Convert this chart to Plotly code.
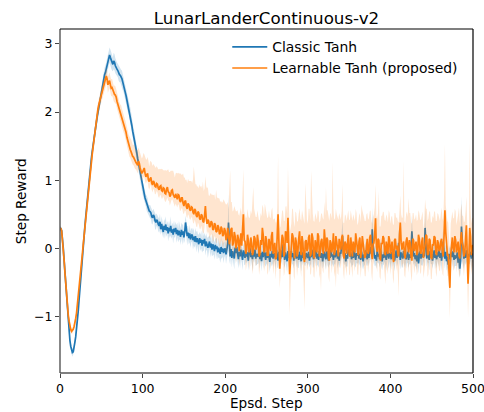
import plotly.graph_objects as go

# Episode steps
steps = list(range(0, 501))

# Classic Tanh: mean step reward per step and its (symmetric) spread
classic_mean = [
    0.30, 0.29, 0.26, 0.15, 0.00, -0.18, -0.35, -0.56, -0.78, -0.95, -1.10, -1.24, -1.35, -1.44, -1.50, -1.53, -1.52, -1.47, -1.38, -1.30,
    -1.20, -1.07, -0.93, -0.77, -0.60, -0.44, -0.28, -0.13, 0.02, 0.16, 0.30, 0.44, 0.58, 0.72, 0.85, 0.98, 1.10, 1.21, 1.32, 1.42,
    1.52, 1.61, 1.70, 1.78, 1.86, 1.93, 2.00, 2.07, 2.14, 2.22, 2.30, 2.36, 2.42, 2.49, 2.55, 2.58, 2.63, 2.68, 2.74, 2.79,
    2.84, 2.80, 2.76, 2.72, 2.70, 2.75, 2.73, 2.68, 2.64, 2.63, 2.61, 2.57, 2.55, 2.54, 2.52, 2.49, 2.44, 2.40, 2.33, 2.29,
    2.24, 2.18, 2.12, 2.08, 2.03, 1.97, 1.90, 1.80, 1.72, 1.66, 1.62, 1.55, 1.48, 1.40, 1.32, 1.25, 1.18, 1.10, 1.02, 0.95,
    0.88, 0.84, 0.80, 0.74, 0.70, 0.66, 0.64, 0.58, 0.55, 0.54, 0.52, 0.47, 0.45, 0.49, 0.47, 0.41, 0.38, 0.42, 0.40, 0.35,
    0.33, 0.39, 0.28, 0.36, 0.30, 0.24, 0.33, 0.27, 0.35, 0.26, 0.31, 0.22, 0.30, 0.25, 0.33, 0.23, 0.28, 0.20, 0.29, 0.24,
    0.30, 0.21, 0.27, 0.19, 0.26, 0.22, 0.17, 0.27, 0.20, 0.25, 0.16, 0.24, 0.38, 0.28, 0.18, 0.23, 0.15, 0.22, 0.13, 0.19,
    0.20, 0.12, 0.17, 0.10, 0.18, 0.09, 0.15, 0.11, 0.06, 0.15, 0.08, 0.13, 0.04, 0.12, 0.07, 0.14, 0.03, 0.10, 0.06, 0.01,
    0.05, 0.10, 0.01, 0.07, -0.02, 0.06, 0.02, -0.04, 0.05, -0.01, 0.03, -0.06, 0.01, -0.03, -0.08, 0.02, -0.05, 0.00, -0.07, -0.02,
    0.00, -0.09, -0.02, 0.06, 0.38, -0.03, -0.12, -0.01, -0.14, -0.04, -0.08, -0.15, 0.01, -0.07, 0.02, -0.11, -0.16, -0.05, -0.12, -0.02,
    -0.09, -0.17, -0.03, -0.10, -0.14, -0.01, -0.12, -0.06, -0.18, -0.04, 0.01, -0.13, -0.07, -0.16, -0.05, -0.12, -0.02, -0.15, -0.08, -0.11,
    -0.12, -0.03, -0.16, -0.07, -0.19, -0.05, -0.13, -0.01, -0.10, -0.17, -0.06, -0.14, -0.03, -0.11, -0.20, -0.08, -0.13, -0.04, -0.15, -0.09,
    -0.07, -0.16, -0.02, -0.12, -0.18, -0.05, -0.10, -0.15, -0.03, -0.13, 0.06, -0.09, -0.17, -0.06, -0.11, -0.19, -0.04, -0.14, -0.08, -0.16,
    -0.04, -0.13, -0.07, -0.18, -0.10, -0.02, -0.15, -0.08, -0.12, -0.17, -0.05, -0.11, -0.19, -0.06, -0.14, -0.03, -0.12, -0.16, -0.07, -0.10,
    -0.14, -0.05, -0.18, -0.09, -0.13, -0.02, -0.11, -0.16, -0.06, -0.12, 0.00, -0.15, -0.08, -0.17, -0.04, -0.10, -0.14, -0.07, -0.19, -0.09,
    -0.05, -0.13, -0.16, -0.04, -0.11, -0.18, -0.07, -0.14, -0.02, -0.12, -0.09, -0.17, -0.05, -0.13, -0.10, -0.03, -0.15, -0.08, -0.18, -0.06,
    -0.08, 0.02, 0.18, -0.04, -0.13, -0.07, -0.19, -0.10, -0.15, -0.03, 0.05, -0.12, -0.06, -0.16, -0.09, -0.14, -0.02, -0.11, -0.17, -0.07,
    -0.11, -0.04, -0.15, -0.08, -0.17, -0.05, -0.12, -0.19, -0.09, -0.13, -0.03, -0.10, -0.16, -0.06, -0.14, -0.01, 0.02, -0.08, 0.28, 0.05,
    -0.07, -0.15, -0.10, -0.18, -0.04, -0.12, -0.08, -0.16, -0.03, -0.13, -0.19, -0.09, -0.14, -0.05, -0.11, -0.17, -0.02, -0.10, -0.15, -0.07,
    -0.09, -0.16, -0.05, -0.13, -0.08, -0.18, -0.11, -0.03, -0.14, -0.07, 0.08, -0.10, -0.17, -0.06, -0.12, -0.15, -0.04, -0.13, -0.09, -0.16,
    -0.11, -0.05, -0.17, -0.09, -0.14, -0.02, 0.25, 0.03, -0.12, -0.07, -0.16, -0.10, -0.19, -0.06, -0.22, -0.11, -0.04, -0.15, -0.08, -0.13,
    -0.05, -0.12, 0.30, 0.08, -0.15, -0.06, -0.11, -0.17, -0.04, -0.13, -0.08, -0.18, -0.10, -0.03, -0.14, -0.09, -0.16, -0.06, -0.12, -0.02,
    -0.14, -0.07, -0.18, -0.03, 0.10, -0.09, -0.15, -0.05, -0.19, -0.12, -0.24, -0.08, -0.16, -0.11, -0.06, -0.13, -0.04, -0.17, -0.10, -0.14,
    -0.13, -0.06, -0.21, -0.12, -0.30, -0.18, 0.32, 0.12, -0.10, -0.15, -0.07, -0.14, -0.03, -0.11, -0.16, -0.08, -0.12, -0.05, -0.15, -0.09,
    -0.08,
]
classic_spread = [
    0.03, 0.03, 0.03, 0.03, 0.03, 0.04, 0.04, 0.04, 0.04, 0.05, 0.05, 0.05, 0.05, 0.05, 0.05, 0.06, 0.06, 0.05, 0.05, 0.05,
    0.04, 0.04, 0.04, 0.04, 0.04, 0.04, 0.04, 0.04, 0.04, 0.04, 0.04, 0.05, 0.05, 0.05, 0.05, 0.05, 0.05, 0.06, 0.06, 0.06,
    0.06, 0.07, 0.07, 0.07, 0.07, 0.08, 0.08, 0.08, 0.08, 0.09, 0.09, 0.09, 0.09, 0.10, 0.10, 0.10, 0.10, 0.11, 0.11, 0.11,
    0.11, 0.12, 0.12, 0.11, 0.10, 0.12, 0.12, 0.11, 0.11, 0.10, 0.10, 0.11, 0.11, 0.10, 0.10, 0.12, 0.12, 0.11, 0.10, 0.10,
    0.10, 0.11, 0.11, 0.10, 0.10, 0.10, 0.10, 0.09, 0.09, 0.10, 0.10, 0.09, 0.09, 0.09, 0.09, 0.08, 0.08, 0.09, 0.09, 0.09,
    0.09, 0.10, 0.08, 0.09, 0.09, 0.11, 0.10, 0.08, 0.08, 0.10, 0.09, 0.11, 0.10, 0.09, 0.08, 0.12, 0.11, 0.09, 0.09, 0.10,
    0.10, 0.12, 0.08, 0.11, 0.11, 0.09, 0.10, 0.13, 0.12, 0.09, 0.09, 0.12, 0.11, 0.10, 0.14, 0.09, 0.10, 0.13, 0.12, 0.09,
    0.09, 0.13, 0.11, 0.10, 0.14, 0.09, 0.12, 0.11, 0.15, 0.10, 0.09, 0.13, 0.10, 0.11, 0.14, 0.10, 0.09, 0.13, 0.12, 0.10,
    0.10, 0.14, 0.13, 0.09, 0.12, 0.15, 0.11, 0.10, 0.14, 0.09, 0.12, 0.13, 0.10, 0.16, 0.11, 0.09, 0.14, 0.12, 0.10, 0.15,
    0.12, 0.09, 0.14, 0.12, 0.10, 0.16, 0.11, 0.13, 0.09, 0.15, 0.12, 0.10, 0.14, 0.11, 0.13, 0.17, 0.10, 0.12, 0.15, 0.11,
    0.11, 0.14, 0.13, 0.20, 0.42, 0.15, 0.12, 0.10, 0.14, 0.11, 0.13, 0.16, 0.09, 0.15, 0.12, 0.10, 0.14, 0.11, 0.17, 0.13,
    0.12, 0.15, 0.10, 0.14, 0.11, 0.17, 0.10, 0.13, 0.15, 0.12, 0.10, 0.14, 0.11, 0.18, 0.12, 0.09, 0.14, 0.11, 0.16, 0.12,
    0.11, 0.16, 0.13, 0.10, 0.15, 0.12, 0.17, 0.11, 0.14, 0.10, 0.16, 0.12, 0.13, 0.10, 0.15, 0.11, 0.14, 0.18, 0.12, 0.10,
    0.12, 0.15, 0.11, 0.17, 0.10, 0.14, 0.13, 0.11, 0.16, 0.12, 0.10, 0.15, 0.12, 0.14, 0.11, 0.17, 0.10, 0.13, 0.15, 0.12,
    0.14, 0.11, 0.16, 0.12, 0.10, 0.15, 0.13, 0.11, 0.17, 0.12, 0.14, 0.10, 0.15, 0.12, 0.11, 0.16, 0.13, 0.10, 0.14, 0.12,
    0.12, 0.16, 0.10, 0.14, 0.13, 0.11, 0.17, 0.12, 0.10, 0.15, 0.13, 0.11, 0.16, 0.12, 0.14, 0.10, 0.15, 0.12, 0.11, 0.17,
    0.13, 0.10, 0.15, 0.12, 0.14, 0.11, 0.16, 0.12, 0.10, 0.15, 0.13, 0.11, 0.17, 0.12, 0.14, 0.10, 0.15, 0.13, 0.11, 0.16,
    0.11, 0.15, 0.24, 0.16, 0.12, 0.14, 0.10, 0.16, 0.12, 0.13, 0.15, 0.11, 0.14, 0.12, 0.16, 0.10, 0.13, 0.15, 0.11, 0.14,
    0.12, 0.16, 0.11, 0.14, 0.13, 0.10, 0.15, 0.12, 0.17, 0.11, 0.13, 0.15, 0.10, 0.14, 0.12, 0.16, 0.18, 0.13, 0.32, 0.20,
    0.13, 0.11, 0.15, 0.12, 0.16, 0.10, 0.14, 0.12, 0.17, 0.11, 0.13, 0.15, 0.10, 0.14, 0.12, 0.16, 0.11, 0.13, 0.15, 0.12,
    0.12, 0.15, 0.10, 0.14, 0.13, 0.16, 0.11, 0.14, 0.12, 0.15, 0.20, 0.12, 0.14, 0.11, 0.16, 0.13, 0.10, 0.15, 0.12, 0.14,
    0.11, 0.16, 0.12, 0.14, 0.10, 0.15, 0.24, 0.17, 0.12, 0.14, 0.11, 0.16, 0.13, 0.10, 0.15, 0.12, 0.14, 0.11, 0.16, 0.13,
    0.13, 0.15, 0.26, 0.18, 0.12, 0.14, 0.11, 0.16, 0.13, 0.10, 0.15, 0.12, 0.14, 0.11, 0.17, 0.12, 0.14, 0.10, 0.15, 0.13,
    0.14, 0.11, 0.16, 0.13, 0.20, 0.12, 0.15, 0.11, 0.14, 0.17, 0.15, 0.12, 0.16, 0.13, 0.11, 0.15, 0.12, 0.14, 0.16, 0.12,
    0.13, 0.15, 0.12, 0.16, 0.14, 0.18, 0.45, 0.30, 0.12, 0.15, 0.13, 0.11, 0.16, 0.12, 0.14, 0.15, 0.11, 0.13, 0.16, 0.12,
    0.12,
]

# Learnable Tanh (proposed): mean step reward per step and band extent above / below it
learnable_mean = [
    0.30, 0.29, 0.26, 0.14, 0.00, -0.18, -0.36, -0.55, -0.72, -0.86, -0.98, -1.07, -1.15, -1.19, -1.22, -1.21, -1.19, -1.15, -1.10, -1.03,
    -0.95, -0.84, -0.72, -0.59, -0.45, -0.34, -0.22, -0.09, 0.04, 0.17, 0.30, 0.43, 0.56, 0.69, 0.82, 0.94, 1.06, 1.17, 1.28, 1.38,
    1.48, 1.59, 1.70, 1.81, 1.92, 1.99, 2.05, 2.11, 2.16, 2.20, 2.24, 2.30, 2.33, 2.37, 2.42, 2.47, 2.53, 2.49, 2.40, 2.44,
    2.46, 2.40, 2.35, 2.36, 2.32, 2.27, 2.26, 2.25, 2.22, 2.16, 2.12, 2.07, 2.02, 1.99, 1.96, 1.91, 1.86, 1.82, 1.78, 1.74,
    1.70, 1.63, 1.58, 1.52, 1.47, 1.45, 1.42, 1.37, 1.35, 1.34, 1.31, 1.27, 1.26, 1.24, 1.22, 1.28, 1.25, 1.18, 1.15, 1.10,
    1.12, 1.15, 1.18, 1.10, 1.05, 1.08, 1.10, 1.01, 0.98, 1.02, 1.04, 0.96, 0.93, 0.99, 0.97, 0.91, 0.90, 0.95, 0.94, 0.88,
    0.86, 0.91, 0.92, 0.85, 0.84, 0.89, 0.88, 0.81, 0.80, 0.87, 0.90, 0.83, 0.82, 0.76, 0.78, 0.85, 0.86, 0.79, 0.76, 0.74,
    0.80, 0.75, 0.72, 0.79, 0.78, 0.70, 0.68, 0.74, 0.74, 0.66, 0.62, 0.69, 0.70, 0.61, 0.58, 0.66, 0.64, 0.57, 0.55, 0.61,
    0.60, 0.53, 0.50, 0.58, 0.56, 0.48, 0.46, 0.54, 0.52, 0.44, 0.42, 0.50, 0.48, 0.40, 0.38, 0.48, 0.62, 0.45, 0.36, 0.42,
    0.40, 0.31, 0.33, 0.40, 0.38, 0.27, 0.28, 0.37, 0.35, 0.24, 0.25, 0.34, 0.31, 0.21, 0.22, 0.32, 0.29, 0.18, 0.20, 0.30,
    0.26, 0.12, 0.15, 0.30, 0.22, 0.06, 0.12, 0.28, 0.30, 0.04, 0.08, 0.24, 0.18, 0.00, 0.05, 0.20, 0.14, -0.04, 0.10, 0.22,
    0.04, 0.30, 0.50, 0.12, 0.10, -0.08, -0.02, 0.20, 0.12, -0.06, 0.00, 0.16, 0.08, -0.10, -0.05, 0.18, 0.15, -0.02, 0.02, 0.20,
    0.10, -0.12, -0.08, 0.12, 0.05, 0.30, 0.20, -0.06, -0.04, 0.18, 0.12, -0.10, -0.10, 0.14, 0.06, -0.04, 0.18, 0.24, -0.08, -0.02,
    0.08, -0.16, -0.12, 0.20, 0.50, 0.10, -0.30, -0.10, 0.05, 0.20, 0.15, -0.12, -0.08, 0.25, 0.22, 0.08, 0.45, 0.10, -0.38, -0.20,
    0.02, 0.22, 0.18, -0.10, -0.15, 0.16, 0.10, -0.12, -0.05, 0.14, 0.25, 0.00, -0.10, 0.18, 0.08, -0.14, -0.20, 0.10, 0.12, -0.04,
    0.00, 0.16, 0.20, -0.12, -0.08, 0.22, 0.15, -0.10, -0.15, 0.12, 0.05, -0.06, 0.22, 0.18, -0.12, -0.06, 0.10, 0.14, -0.03, -0.08,
    0.28, 0.10, -0.05, 0.16, 0.12, -0.14, -0.18, 0.12, 0.08, -0.06, 0.02, 0.22, -0.10, -0.04, 0.18, 0.10, -0.06, -0.12, 0.14, 0.06,
    -0.02, 0.15, 0.20, -0.10, -0.15, 0.10, 0.06, -0.08, 0.12, 0.20, -0.08, -0.12, 0.16, 0.04, -0.12, 0.10, 0.04, -0.06, 0.22, 0.12,
    -0.06, -0.10, 0.10, 0.16, -0.14, -0.04, 0.18, 0.08, 0.02, -0.14, -0.10, 0.10, 0.14, -0.08, -0.04, 0.16, 0.20, -0.06, -0.16, 0.06,
    0.08, 0.20, 0.44, 0.02, -0.05, 0.14, 0.12, -0.12, -0.18, 0.08, 0.06, 0.18, 0.15, -0.06, -0.10, 0.10, 0.02, -0.08, 0.18, 0.12,
    -0.08, 0.06, 0.10, -0.14, -0.20, 0.12, 0.14, -0.02, 0.04, -0.08, -0.12, 0.20, 0.38, 0.08, -0.02, 0.06, 0.10, -0.10, -0.15, 0.10,
    0.16, 0.04, -0.06, 0.12, 0.08, -0.12, -0.18, 0.14, 0.12, -0.04, 0.02, 0.10, -0.10, -0.06, 0.20, 0.14, -0.04, -0.08, 0.10, 0.16,
    -0.14, -0.06, 0.06, 0.20, 0.18, -0.10, -0.08, 0.14, 0.12, -0.12, -0.16, 0.06, 0.04, 0.18, 0.16, -0.06, -0.10, 0.12, 0.08, -0.04,
    -0.02, 0.10, 0.14, -0.06, -0.12, 0.20, 0.56, 0.24, 0.05, -0.10, -0.10, -0.30, -0.58, -0.10, 0.12, 0.16, 0.00, -0.06, 0.18, 0.12,
    -0.06, 0.04, 0.10, -0.10, -0.15, 0.12, 0.24, 0.08, 0.02, -0.12, -0.08, 0.14, 0.34, -0.10, -0.52, -0.20, 0.30, 0.18, -0.10, 0.02,
    0.05,
]
learnable_above = [
    0.03, 0.03, 0.03, 0.03, 0.03, 0.03, 0.04, 0.04, 0.04, 0.04, 0.04, 0.04, 0.04, 0.04, 0.04, 0.04, 0.04, 0.04, 0.04, 0.04,
    0.04, 0.04, 0.04, 0.04, 0.04, 0.04, 0.04, 0.04, 0.05, 0.05, 0.05, 0.05, 0.05, 0.05, 0.06, 0.06, 0.06, 0.06, 0.07, 0.07,
    0.07, 0.07, 0.08, 0.08, 0.08, 0.08, 0.09, 0.09, 0.10, 0.10, 0.10, 0.10, 0.11, 0.11, 0.11, 0.11, 0.12, 0.12, 0.12, 0.12,
    0.12, 0.12, 0.13, 0.13, 0.12, 0.12, 0.13, 0.13, 0.12, 0.12, 0.13, 0.13, 0.12, 0.12, 0.14, 0.14, 0.13, 0.13, 0.14, 0.14,
    0.14, 0.14, 0.15, 0.15, 0.16, 0.17, 0.18, 0.18, 0.17, 0.18, 0.20, 0.19, 0.18, 0.20, 0.22, 0.20, 0.19, 0.22, 0.24, 0.22,
    0.22, 0.25, 0.20, 0.24, 0.26, 0.22, 0.24, 0.28, 0.22, 0.26, 0.24, 0.30, 0.28, 0.25, 0.25, 0.30, 0.28, 0.26, 0.24, 0.28,
    0.30, 0.26, 0.24, 0.32, 0.32, 0.26, 0.26, 0.34, 0.34, 0.27, 0.25, 0.33, 0.30, 0.36, 0.36, 0.29, 0.28, 0.35, 0.34, 0.30,
    0.30, 0.36, 0.38, 0.32, 0.32, 0.40, 0.42, 0.34, 0.34, 0.44, 0.42, 0.35, 0.30, 0.40, 0.38, 0.36, 0.35, 0.42, 0.44, 0.38,
    0.36, 0.48, 0.70, 0.40, 0.38, 0.46, 0.44, 0.38, 0.36, 0.50, 0.48, 0.42, 0.40, 0.58, 0.46, 0.40, 0.44, 0.46, 0.52, 0.48,
    0.38, 0.46, 0.48, 0.40, 0.40, 0.52, 0.50, 0.42, 0.36, 0.62, 0.50, 0.40, 0.42, 0.52, 0.46, 0.38, 0.38, 0.50, 0.52, 0.40,
    0.40, 0.52, 0.50, 0.38, 0.36, 0.90, 1.03, 0.40, 0.38, 0.50, 0.48, 0.38, 0.40, 0.54, 0.50, 0.36, 0.36, 0.52, 0.44, 0.38,
    0.44, 0.50, 0.66, 0.42, 0.40, 0.52, 0.48, 0.38, 0.36, 0.50, 0.46, 0.40, 0.42, 0.90, 0.95, 0.40, 0.35, 0.48, 0.44, 0.36,
    0.38, 0.52, 0.50, 0.40, 0.42, 0.34, 0.40, 0.52, 0.70, 0.40, 0.38, 0.54, 0.56, 0.42, 0.40, 0.48, 0.38, 0.36, 0.50, 0.46,
    0.36, 0.54, 0.50, 0.40, 0.86, 0.44, 0.60, 0.42, 0.38, 0.36, 0.40, 0.52, 0.48, 0.36, 0.40, 0.44, 0.74, 0.46, 0.62, 0.48,
    0.34, 0.36, 0.40, 0.50, 0.46, 0.38, 0.42, 0.52, 0.44, 0.36, 0.34, 0.44, 0.50, 0.38, 0.40, 0.52, 0.56, 0.86, 0.40, 0.46,
    0.36, 0.42, 0.38, 0.52, 1.22, 0.40, 0.36, 0.50, 0.54, 0.40, 0.42, 0.48, 0.34, 0.36, 0.50, 0.46, 0.40, 0.38, 0.48, 0.50,
    0.40, 0.38, 0.95, 0.40, 0.44, 0.56, 0.58, 0.40, 0.42, 0.50, 1.25, 0.36, 0.52, 0.48, 0.40, 0.40, 0.50, 0.54, 0.38, 0.42,
    0.44, 0.40, 0.75, 0.48, 0.52, 0.40, 0.42, 0.48, 0.38, 0.36, 0.50, 0.54, 0.40, 0.42, 0.52, 0.40, 0.42, 0.46, 0.36, 0.40,
    0.40, 0.48, 0.38, 0.36, 0.52, 0.68, 0.38, 0.40, 0.44, 0.54, 0.50, 0.40, 0.38, 0.50, 0.48, 0.38, 0.36, 0.46, 0.52, 0.40,
    0.42, 0.40, 0.50, 0.46, 0.48, 0.38, 0.72, 0.44, 0.50, 0.40, 0.42, 0.36, 0.38, 0.48, 0.50, 0.40, 0.44, 0.46, 0.38, 0.40,
    0.44, 0.40, 0.38, 0.50, 0.54, 0.40, 0.38, 0.46, 0.42, 0.48, 0.50, 0.36, 0.40, 0.42, 0.46, 0.40, 1.19, 0.50, 0.52, 0.40,
    0.38, 0.42, 0.80, 0.40, 0.44, 0.50, 0.54, 0.38, 0.40, 0.46, 0.42, 0.40, 0.50, 0.48, 0.36, 0.38, 0.46, 0.50, 0.40, 0.38,
    0.40, 0.46, 0.66, 0.38, 0.40, 0.50, 0.52, 0.40, 0.42, 0.50, 0.54, 0.42, 0.40, 0.36, 0.38, 0.46, 0.50, 0.40, 0.42, 0.46,
    0.42, 0.40, 0.46, 0.50, 0.52, 0.60, 0.98, 0.40, 0.44, 0.50, 0.48, 0.46, 0.52, 0.46, 0.40, 0.38, 0.44, 0.50, 0.40, 0.42,
    0.40, 0.44, 0.40, 0.70, 0.52, 0.44, 0.42, 0.40, 0.46, 0.50, 0.48, 0.40, 0.42, 0.48, 0.56, 0.50, 1.25, 0.40, 0.46, 0.42,
    0.40,
]
learnable_below = [
    0.03, 0.03, 0.03, 0.03, 0.03, 0.03, 0.04, 0.04, 0.04, 0.04, 0.04, 0.04, 0.04, 0.04, 0.04, 0.04, 0.04, 0.04, 0.04, 0.04,
    0.04, 0.04, 0.04, 0.04, 0.04, 0.04, 0.04, 0.04, 0.05, 0.05, 0.05, 0.05, 0.05, 0.05, 0.06, 0.06, 0.06, 0.06, 0.07, 0.07,
    0.07, 0.07, 0.08, 0.08, 0.08, 0.08, 0.09, 0.09, 0.10, 0.10, 0.10, 0.10, 0.10, 0.10, 0.11, 0.11, 0.11, 0.11, 0.12, 0.12,
    0.11, 0.11, 0.12, 0.12, 0.11, 0.11, 0.12, 0.12, 0.11, 0.11, 0.12, 0.12, 0.11, 0.11, 0.12, 0.12, 0.12, 0.12, 0.11, 0.11,
    0.12, 0.12, 0.11, 0.11, 0.12, 0.12, 0.10, 0.10, 0.12, 0.12, 0.11, 0.11, 0.10, 0.10, 0.12, 0.12, 0.10, 0.10, 0.11, 0.11,
    0.10, 0.11, 0.12, 0.11, 0.10, 0.10, 0.11, 0.11, 0.12, 0.12, 0.10, 0.10, 0.11, 0.11, 0.12, 0.12, 0.10, 0.11, 0.12, 0.12,
    0.12, 0.13, 0.14, 0.12, 0.11, 0.12, 0.13, 0.12, 0.12, 0.15, 0.15, 0.13, 0.12, 0.13, 0.13, 0.14, 0.14, 0.12, 0.12, 0.13,
    0.14, 0.13, 0.12, 0.14, 0.15, 0.14, 0.13, 0.15, 0.16, 0.14, 0.12, 0.14, 0.15, 0.14, 0.14, 0.16, 0.16, 0.14, 0.13, 0.15,
    0.16, 0.15, 0.14, 0.16, 0.18, 0.16, 0.15, 0.16, 0.17, 0.15, 0.14, 0.17, 0.19, 0.17, 0.16, 0.17, 0.18, 0.16, 0.15, 0.17,
    0.18, 0.17, 0.16, 0.19, 0.20, 0.18, 0.17, 0.19, 0.19, 0.17, 0.16, 0.18, 0.21, 0.19, 0.18, 0.20, 0.20, 0.18, 0.17, 0.19,
    0.22, 0.20, 0.18, 0.21, 0.20, 0.19, 0.22, 0.26, 0.24, 0.20, 0.22, 0.23, 0.25, 0.21, 0.20, 0.23, 0.24, 0.22, 0.21, 0.25,
    0.24, 0.22, 0.20, 0.24, 0.26, 0.25, 0.22, 0.25, 0.28, 0.26, 0.21, 0.23, 0.26, 0.28, 0.23, 0.25, 0.27, 0.24, 0.26, 0.28,
    0.25, 0.27, 0.22, 0.26, 0.28, 0.25, 0.30, 0.28, 0.23, 0.26, 0.27, 0.29, 0.25, 0.24, 0.29, 0.27, 0.24, 0.26, 0.30, 0.28,
    0.28, 0.30, 0.25, 0.27, 0.30, 0.26, 0.29, 0.31, 0.24, 0.27, 0.31, 0.29, 0.27, 0.26, 0.30, 0.28, 0.30, 0.27, 0.60, 0.45,
    0.30, 0.28, 0.26, 0.31, 0.32, 0.28, 0.31, 0.29, 0.27, 0.30, 0.27, 0.30, 0.32, 0.25, 0.29, 0.31, 0.70, 0.30, 0.28, 0.29,
    0.28, 0.30, 0.32, 0.27, 0.29, 0.30, 0.33, 0.31, 0.28, 0.26, 0.31, 0.30, 0.29, 0.27, 0.32, 0.31, 0.73, 0.26, 0.30, 0.29,
    0.31, 0.30, 0.27, 0.29, 0.30, 0.28, 0.32, 0.29, 0.27, 0.31, 0.30, 0.28, 0.32, 0.30, 0.76, 0.29, 0.31, 0.27, 0.30, 0.28,
    0.28, 0.30, 0.32, 0.27, 0.31, 0.30, 0.29, 0.33, 0.27, 0.31, 0.30, 0.28, 0.32, 0.27, 0.31, 0.29, 0.30, 0.28, 0.32, 0.30,
    0.32, 0.29, 0.27, 0.31, 0.30, 0.33, 0.28, 0.30, 0.29, 0.27, 0.31, 0.30, 0.32, 0.28, 0.30, 0.29, 0.27, 0.31, 0.33, 0.30,
    0.28, 0.30, 0.31, 0.27, 0.30, 0.29, 0.32, 0.30, 0.28, 0.31, 0.29, 0.27, 0.32, 0.30, 0.43, 0.33, 0.28, 0.30, 0.27, 0.31,
    0.31, 0.29, 0.28, 0.30, 0.32, 0.30, 0.27, 0.31, 0.29, 0.30, 0.59, 0.28, 0.30, 0.31, 0.27, 0.29, 0.32, 0.30, 0.28, 0.31,
    0.29, 0.31, 0.30, 0.27, 0.32, 0.29, 0.31, 0.28, 0.30, 0.33, 0.27, 0.31, 0.30, 0.28, 0.32, 0.29, 0.31, 0.30, 0.27, 0.29,
    0.30, 0.28, 0.31, 0.29, 0.27, 0.32, 0.30, 0.28, 0.31, 0.33, 0.29, 0.30, 0.27, 0.31, 0.28, 0.30, 0.32, 0.29, 0.31, 0.28,
    0.32, 0.30, 0.28, 0.31, 0.29, 0.27, 0.30, 0.32, 0.28, 0.31, 0.30, 0.29, 0.45, 0.33, 0.30, 0.28, 0.31, 0.27, 0.30, 0.29,
    0.30, 0.28, 0.31, 0.29, 0.27, 0.30, 0.32, 0.28, 0.31, 0.29, 0.30, 0.27, 0.32, 0.30, 0.50, 0.31, 0.28, 0.30, 0.29, 0.31,
    0.30,
]

series_names = ["Classic Tanh", "Learnable Tanh (proposed)"]
x_ticks = [0, 100, 200, 300, 400, 500]
y_ticks = [-1, 0, 1, 2, 3]

for name, arr in (("classic_mean", classic_mean), ("classic_spread", classic_spread),
                  ("learnable_mean", learnable_mean), ("learnable_above", learnable_above),
                  ("learnable_below", learnable_below)):
    assert len(arr) == len(steps), (name, len(arr))

BLUE = "#1f77b4"
ORANGE = "#ff7f0e"
FONT = "DejaVu Sans"


def band(x, lo, hi, color):
    return go.Scatter(
        x=list(x) + list(x)[::-1],
        y=list(hi) + list(lo)[::-1],
        fill="toself", fillcolor=color, mode="lines",
        line=dict(width=0, color=color), hoverinfo="skip", showlegend=False,
    )


classic_hi = [m + s for m, s in zip(classic_mean, classic_spread)]
classic_lo = [m - s for m, s in zip(classic_mean, classic_spread)]
learn_hi = [m + s for m, s in zip(learnable_mean, learnable_above)]
learn_lo = [m - s for m, s in zip(learnable_mean, learnable_below)]

fig = go.Figure()
fig.add_trace(band(steps, classic_lo, classic_hi, "rgba(31,119,180,0.2)"))
fig.add_trace(go.Scatter(x=steps, y=classic_mean, mode="lines", name=series_names[0],
                         line=dict(color=BLUE, width=1.7)))
fig.add_trace(band(steps, learn_lo, learn_hi, "rgba(255,127,14,0.2)"))
fig.add_trace(go.Scatter(x=steps, y=learnable_mean, mode="lines", name=series_names[1],
                         line=dict(color=ORANGE, width=1.7)))

axis_common = dict(
    showgrid=False, zeroline=False, showline=False, automargin=False,
    ticks="outside", ticklen=4, tickwidth=1, tickcolor="#444444",
    tickfont=dict(family=FONT, size=12.5, color="black"),
    ticklabeloverflow="allow",
)
fig.update_xaxes(range=[0, 500], tickvals=x_ticks, **axis_common)
fig.update_yaxes(range=[-1.83, 3.22], tickvals=y_ticks, **axis_common)

# frame: grey left/bottom spines, black top/right
frame = [
    dict(x0=0, x1=0, y0=0, y1=1, color="#555555", width=1.4),
    dict(x0=0, x1=1, y0=0, y1=0, color="#555555", width=1.4),
    dict(x0=1, x1=1, y0=0, y1=1, color="black", width=1.2),
    dict(x0=0, x1=1, y0=1, y1=1, color="black", width=1.2),
]
for f in frame:
    fig.add_shape(type="line", xref="paper", yref="paper",
                  x0=f["x0"], x1=f["x1"], y0=f["y0"], y1=f["y1"],
                  line=dict(color=f["color"], width=f["width"]))

fig.add_annotation(text="Epsd. Step", xref="paper", yref="paper", x=0.5, y=-0.087,
                   xanchor="center", yanchor="middle", showarrow=False,
                   font=dict(family=FONT, size=13.6, color="black"))
fig.add_annotation(text="Step Reward", xref="paper", yref="paper", x=-0.094, y=0.5,
                   xanchor="center", yanchor="middle", textangle=-90, showarrow=False,
                   font=dict(family=FONT, size=13.6, color="black"))

fig.update_layout(
    width=484, height=412,
    margin=dict(l=60, r=11, t=29, b=39),
    paper_bgcolor="white", plot_bgcolor="white",
    title=dict(text="LunarLanderContinuous-v2", x=0.5, xref="paper", xanchor="center",
               y=0.955, yref="container", yanchor="middle",
               font=dict(family=FONT, size=16.7, color="black")),
    legend=dict(x=0.405, y=0.993, xanchor="left", yanchor="top", bgcolor="rgba(0,0,0,0)",
                borderwidth=0, itemwidth=35, font=dict(family=FONT, size=13.9, color="black"),
                tracegroupgap=0),
    showlegend=True,
)

fig.write_html("out.html")
